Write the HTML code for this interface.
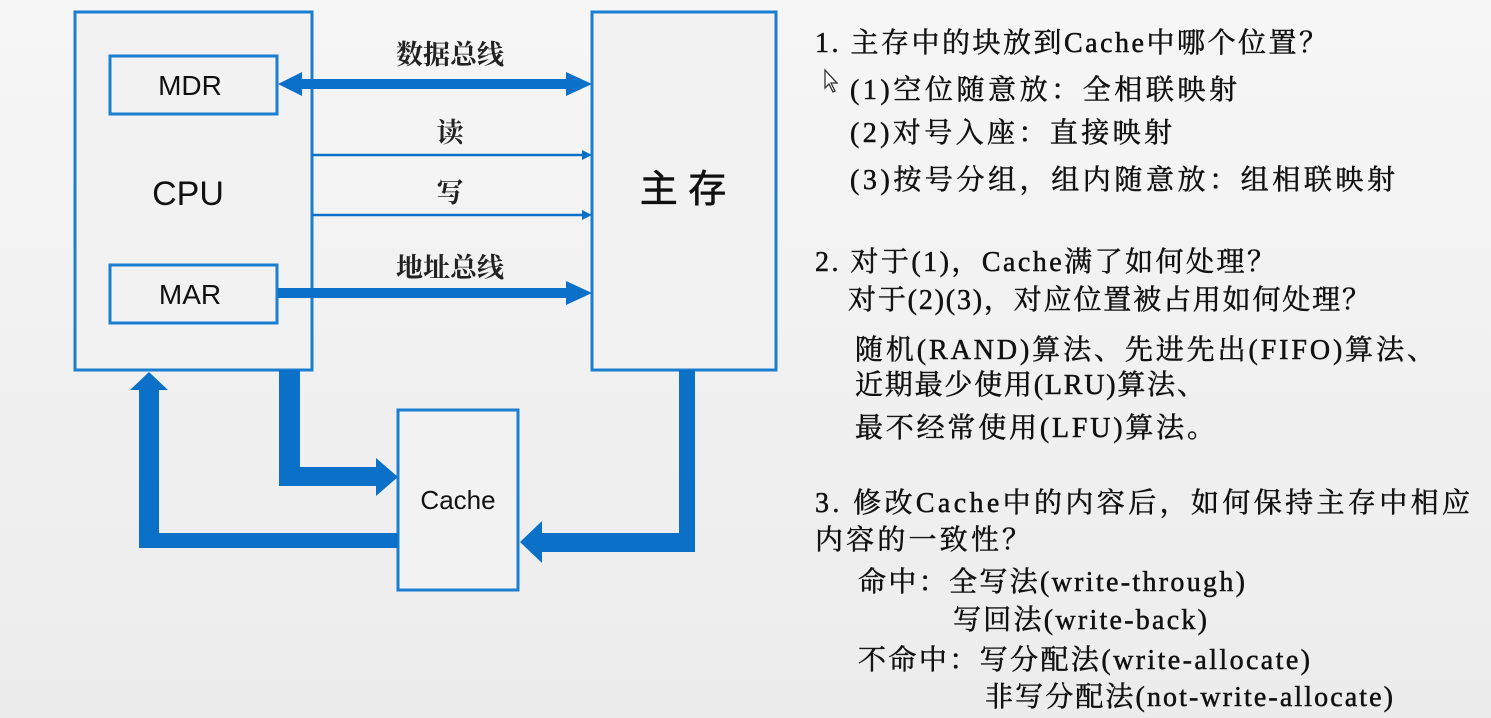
<!DOCTYPE html>
<html><head><meta charset="utf-8"><style>
html,body{margin:0;padding:0;background:#f2f2f2;}
svg{display:block;}
.t{font-family:"Liberation Serif","Noto Serif CJK SC",serif;font-size:28px;fill:#111;stroke:#111;stroke-width:0.5;}
.b{font-family:"Liberation Serif","Noto Serif CJK SC",serif;font-size:27px;font-weight:bold;fill:#222;}
.s{font-family:"Liberation Sans","Noto Sans CJK SC",sans-serif;fill:#111;}
</style></head><body>
<svg width="1491" height="718" viewBox="0 0 1491 718" xmlns="http://www.w3.org/2000/svg">
<defs><linearGradient id="bg" x1="0" y1="0" x2="0" y2="1"><stop offset="0" stop-color="#f6f6f6"/><stop offset="1" stop-color="#ececec"/></linearGradient></defs>
<rect width="1491" height="718" fill="url(#bg)"/>
<g fill="#f2f2f2" stroke="#1a7fd0" stroke-width="3">
<rect x="75" y="12" width="237" height="358"/>
<rect x="110" y="56" width="167" height="58"/>
<rect x="110" y="265" width="167" height="58"/>
<rect x="592" y="12" width="184" height="358"/>
<rect x="398" y="410" width="120" height="180"/>
</g>
<g fill="#0a70c8" stroke="none">
<polygon points="278,84 302,72 302,79 566,79 566,72 592,84 566,96 566,89 302,89 302,96"/>
<polygon points="278,288 566,288 566,281 592,293 566,305 566,298 278,298"/>
<polygon points="279,370 300,370 300,467 376,467 376,458 398,477 376,496 376,486 279,486"/>
<polygon points="398,533 398,548 139,548 139,390 130,390 149,372 168,390 159,390 159,533"/>
<polygon points="679,370 695,370 695,552 542,552 542,563 520,542 542,521 542,533 679,533"/>
</g>
<g stroke="#0a70c8" stroke-width="2.5">
<line x1="312" y1="155" x2="585" y2="155"/>
<line x1="312" y1="215" x2="585" y2="215"/>
</g>
<polygon points="592,155 582,150 582,160" fill="#0a70c8"/>
<polygon points="592,215 582,210 582,220" fill="#0a70c8"/>
<text class="s" x="190" y="95" font-size="28" text-anchor="middle">MDR</text>
<text class="s" x="190" y="304" font-size="28" text-anchor="middle">MAR</text>
<text class="s" x="188" y="205" font-size="34" text-anchor="middle">CPU</text>
<text class="s" x="458" y="509" font-size="26" text-anchor="middle">Cache</text>
<text class="s" x="683" y="202" font-size="38" text-anchor="middle" stroke="#111" stroke-width="0.6">主 存</text>
<text class="b" x="450" y="64" text-anchor="middle">数据总线</text>
<text class="b" x="450" y="142" text-anchor="middle">读</text>
<text class="b" x="450" y="202" text-anchor="middle">写</text>
<text class="b" x="450" y="277" text-anchor="middle">地址总线</text>
<polygon points="825,70 825,88 829,84 833,92 835,91 831,83 837,83" fill="#fff" stroke="#333" stroke-width="1.3"/>
<g class="t">
<text x="815" y="52" textLength="512" lengthAdjust="spacing">1. 主存中的块放到Cache中哪个位置？</text>
<text x="850" y="99" textLength="387" lengthAdjust="spacing">(1)空位随意放：全相联映射</text>
<text x="850" y="142" textLength="322" lengthAdjust="spacing">(2)对号入座：直接映射</text>
<text x="850" y="189" textLength="545" lengthAdjust="spacing">(3)按号分组，组内随意放：组相联映射</text>
<text x="815" y="271" textLength="460" lengthAdjust="spacing">2. 对于(1)，Cache满了如何处理？</text>
<text x="848" y="309" textLength="522" lengthAdjust="spacing">对于(2)(3)，对应位置被占用如何处理？</text>
<text x="855" y="359" textLength="580" lengthAdjust="spacing">随机(RAND)算法、先进先出(FIFO)算法、</text>
<text x="855" y="394" textLength="350" lengthAdjust="spacing">近期最少使用(LRU)算法、</text>
<text x="855" y="437" textLength="360" lengthAdjust="spacing">最不经常使用(LFU)算法。</text>
<text x="815" y="512" textLength="655" lengthAdjust="spacing">3. 修改Cache中的内容后，如何保持主存中相应</text>
<text x="815" y="549" textLength="215" lengthAdjust="spacing">内容的一致性？</text>
<text x="858" y="591" textLength="387" lengthAdjust="spacing">命中：全写法(write-through)</text>
<text x="953" y="629" textLength="254" lengthAdjust="spacing">写回法(write-back)</text>
<text x="858" y="669" textLength="452" lengthAdjust="spacing">不命中：写分配法(write-allocate)</text>
<text x="985" y="706" textLength="408" lengthAdjust="spacing">非写分配法(not-write-allocate)</text>
</g>
</svg>
</body></html>
